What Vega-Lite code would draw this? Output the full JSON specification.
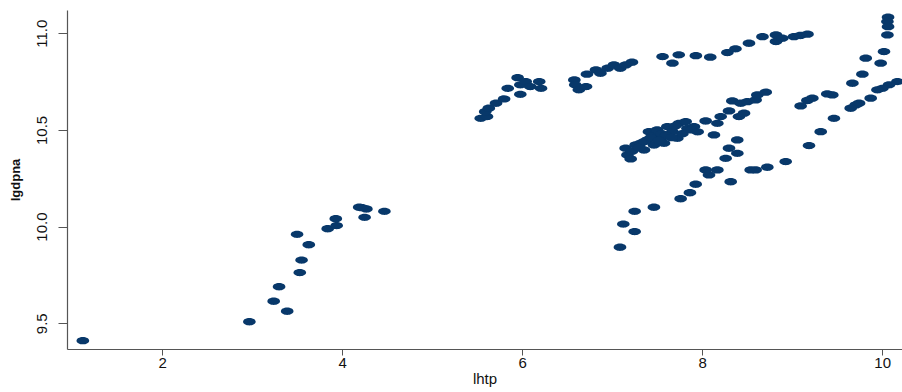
{
  "$schema": "https://vega.github.io/schema/vega-lite/v6.json",
  "width": 835,
  "height": 339,
  "autosize": {"type": "none"},
  "padding": {"left": 67, "top": 10, "right": 0, "bottom": 43},
  "background": "white",
  "config": {"view": {"stroke": null}},
  "data": {"values": [
    {"lhtp": 1.12, "lgdpna": 9.41}, {"lhtp": 2.97, "lgdpna": 9.508}, {"lhtp": 3.24, "lgdpna": 9.614}, {"lhtp": 3.39, "lgdpna": 9.562},
    {"lhtp": 3.30, "lgdpna": 9.689}, {"lhtp": 3.53, "lgdpna": 9.762}, {"lhtp": 3.55, "lgdpna": 9.827}, {"lhtp": 3.50, "lgdpna": 9.96},
    {"lhtp": 3.63, "lgdpna": 9.906}, {"lhtp": 3.84, "lgdpna": 9.989}, {"lhtp": 3.94, "lgdpna": 10.005}, {"lhtp": 3.93, "lgdpna": 10.041},
    {"lhtp": 4.19, "lgdpna": 10.1}, {"lhtp": 4.27, "lgdpna": 10.091}, {"lhtp": 4.25, "lgdpna": 10.048}, {"lhtp": 4.47, "lgdpna": 10.079},
    {"lhtp": 4.22, "lgdpna": 10.098},
    {"lhtp": 5.54, "lgdpna": 10.56}, {"lhtp": 5.61, "lgdpna": 10.569}, {"lhtp": 5.59, "lgdpna": 10.594}, {"lhtp": 5.63, "lgdpna": 10.612},
    {"lhtp": 5.71, "lgdpna": 10.638}, {"lhtp": 5.80, "lgdpna": 10.66}, {"lhtp": 5.95, "lgdpna": 10.77}, {"lhtp": 5.84, "lgdpna": 10.715},
    {"lhtp": 5.98, "lgdpna": 10.733}, {"lhtp": 5.98, "lgdpna": 10.684}, {"lhtp": 6.04, "lgdpna": 10.75}, {"lhtp": 6.09, "lgdpna": 10.724},
    {"lhtp": 6.19, "lgdpna": 10.75}, {"lhtp": 6.21, "lgdpna": 10.715}, {"lhtp": 6.58, "lgdpna": 10.758}, {"lhtp": 6.59, "lgdpna": 10.733},
    {"lhtp": 6.63, "lgdpna": 10.707}, {"lhtp": 6.71, "lgdpna": 10.724}, {"lhtp": 6.72, "lgdpna": 10.788}, {"lhtp": 6.82, "lgdpna": 10.81},
    {"lhtp": 6.87, "lgdpna": 10.793}, {"lhtp": 6.95, "lgdpna": 10.819}, {"lhtp": 7.02, "lgdpna": 10.836}, {"lhtp": 7.09, "lgdpna": 10.819},
    {"lhtp": 7.15, "lgdpna": 10.836}, {"lhtp": 7.22, "lgdpna": 10.85},
    {"lhtp": 7.56, "lgdpna": 10.879}, {"lhtp": 7.67, "lgdpna": 10.845}, {"lhtp": 7.74, "lgdpna": 10.888}, {"lhtp": 7.93, "lgdpna": 10.884},
    {"lhtp": 8.09, "lgdpna": 10.876}, {"lhtp": 8.28, "lgdpna": 10.9}, {"lhtp": 8.37, "lgdpna": 10.919}, {"lhtp": 8.52, "lgdpna": 10.948},
    {"lhtp": 8.67, "lgdpna": 10.982}, {"lhtp": 8.82, "lgdpna": 10.991}, {"lhtp": 8.82, "lgdpna": 10.957}, {"lhtp": 8.89, "lgdpna": 10.974},
    {"lhtp": 9.02, "lgdpna": 10.982}, {"lhtp": 9.09, "lgdpna": 10.988}, {"lhtp": 9.17, "lgdpna": 10.995},
    {"lhtp": 10.065, "lgdpna": 11.083}, {"lhtp": 10.058, "lgdpna": 11.06}, {"lhtp": 10.065, "lgdpna": 11.034}, {"lhtp": 10.058, "lgdpna": 10.991},
    {"lhtp": 10.02, "lgdpna": 10.905}, {"lhtp": 9.983, "lgdpna": 10.845}, {"lhtp": 9.817, "lgdpna": 10.871}, {"lhtp": 9.78, "lgdpna": 10.788},
    {"lhtp": 9.669, "lgdpna": 10.741},
    {"lhtp": 10.169, "lgdpna": 10.75}, {"lhtp": 10.076, "lgdpna": 10.733}, {"lhtp": 10.002, "lgdpna": 10.715}, {"lhtp": 9.947, "lgdpna": 10.707},
    {"lhtp": 9.872, "lgdpna": 10.664}, {"lhtp": 9.743, "lgdpna": 10.638}, {"lhtp": 9.706, "lgdpna": 10.629}, {"lhtp": 9.65, "lgdpna": 10.612},
    {"lhtp": 9.39, "lgdpna": 10.686}, {"lhtp": 9.446, "lgdpna": 10.681}, {"lhtp": 9.224, "lgdpna": 10.664}, {"lhtp": 9.169, "lgdpna": 10.652},
    {"lhtp": 9.094, "lgdpna": 10.624}, {"lhtp": 9.464, "lgdpna": 10.56}, {"lhtp": 9.317, "lgdpna": 10.491}, {"lhtp": 9.187, "lgdpna": 10.419},
    {"lhtp": 8.928, "lgdpna": 10.336}, {"lhtp": 8.724, "lgdpna": 10.307}, {"lhtp": 8.594, "lgdpna": 10.293}, {"lhtp": 8.539, "lgdpna": 10.293},
    {"lhtp": 8.317, "lgdpna": 10.232}, {"lhtp": 8.169, "lgdpna": 10.293}, {"lhtp": 8.076, "lgdpna": 10.267}, {"lhtp": 8.039, "lgdpna": 10.293},
    {"lhtp": 7.928, "lgdpna": 10.219}, {"lhtp": 7.864, "lgdpna": 10.175}, {"lhtp": 7.761, "lgdpna": 10.144}, {"lhtp": 7.464, "lgdpna": 10.1},
    {"lhtp": 7.25, "lgdpna": 10.079}, {"lhtp": 7.124, "lgdpna": 10.013}, {"lhtp": 7.25, "lgdpna": 9.974}, {"lhtp": 7.087, "lgdpna": 9.893},
    {"lhtp": 8.261, "lgdpna": 10.353}, {"lhtp": 8.391, "lgdpna": 10.379}, {"lhtp": 8.298, "lgdpna": 10.405}, {"lhtp": 8.39, "lgdpna": 10.448},
    {"lhtp": 8.131, "lgdpna": 10.474},
    {"lhtp": 7.15, "lgdpna": 10.405}, {"lhtp": 7.17, "lgdpna": 10.37}, {"lhtp": 7.206, "lgdpna": 10.35}, {"lhtp": 7.261, "lgdpna": 10.422},
    {"lhtp": 7.317, "lgdpna": 10.431}, {"lhtp": 7.354, "lgdpna": 10.396}, {"lhtp": 7.39, "lgdpna": 10.448}, {"lhtp": 7.409, "lgdpna": 10.491},
    {"lhtp": 7.465, "lgdpna": 10.474}, {"lhtp": 7.465, "lgdpna": 10.422}, {"lhtp": 7.5, "lgdpna": 10.5}, {"lhtp": 7.539, "lgdpna": 10.457},
    {"lhtp": 7.576, "lgdpna": 10.431}, {"lhtp": 7.613, "lgdpna": 10.517}, {"lhtp": 7.669, "lgdpna": 10.491}, {"lhtp": 7.724, "lgdpna": 10.457},
    {"lhtp": 7.743, "lgdpna": 10.534}, {"lhtp": 7.817, "lgdpna": 10.543}, {"lhtp": 7.836, "lgdpna": 10.508}, {"lhtp": 7.909, "lgdpna": 10.517},
    {"lhtp": 8.039, "lgdpna": 10.546}, {"lhtp": 8.169, "lgdpna": 10.534}, {"lhtp": 8.206, "lgdpna": 10.569}, {"lhtp": 8.298, "lgdpna": 10.598},
    {"lhtp": 8.335, "lgdpna": 10.65}, {"lhtp": 8.409, "lgdpna": 10.569}, {"lhtp": 8.465, "lgdpna": 10.586}, {"lhtp": 8.428, "lgdpna": 10.638},
    {"lhtp": 8.502, "lgdpna": 10.646}, {"lhtp": 8.594, "lgdpna": 10.655}, {"lhtp": 8.613, "lgdpna": 10.681}, {"lhtp": 8.706, "lgdpna": 10.695},
    {"lhtp": 7.22, "lgdpna": 10.39}, {"lhtp": 7.3, "lgdpna": 10.41}, {"lhtp": 7.36, "lgdpna": 10.44}, {"lhtp": 7.43, "lgdpna": 10.46},
    {"lhtp": 7.55, "lgdpna": 10.48}, {"lhtp": 7.6, "lgdpna": 10.47}, {"lhtp": 7.7, "lgdpna": 10.52}, {"lhtp": 7.78, "lgdpna": 10.48},
    {"lhtp": 7.88, "lgdpna": 10.5}, {"lhtp": 7.95, "lgdpna": 10.49}, {"lhtp": 7.66, "lgdpna": 10.46}, {"lhtp": 7.52, "lgdpna": 10.445}
  ]},
  "mark": {
    "type": "point",
    "filled": true,
    "opacity": 1,
    "color": "#08386a",
    "shape": "M-1,0A1,0.58,0,1,1,1,0A1,0.58,0,1,1,-1,0Z",
    "size": 160
  },
  "encoding": {
    "x": {
      "field": "lhtp", "type": "quantitative",
      "scale": {"domain": [0.944, 10.22], "nice": false, "zero": false},
      "axis": {
        "values": [2, 4, 6, 8, 10], "grid": false, "title": "lhtp",
        "domainColor": "#555555", "tickColor": "#555555", "tickSize": 6, "domainWidth": 1.2,
        "labelFont": "Liberation Sans", "labelFontSize": 15, "labelColor": "#111111", "labelPadding": 0,
        "titleFont": "Liberation Sans", "titleFontSize": 15, "titleFontWeight": "normal", "titleColor": "#111111", "titlePadding": 1
      }
    },
    "y": {
      "field": "lgdpna", "type": "quantitative",
      "scale": {"domain": [9.367, 11.12], "nice": false, "zero": false},
      "axis": {
        "values": [9.5, 10, 10.5, 11], "grid": false, "title": "lgdpna",
        "domainColor": "#555555", "tickColor": "#555555", "tickSize": 9, "domainWidth": 1.2,
        "labelAngle": -90, "labelAlign": "center", "labelBaseline": "bottom",
        "labelFont": "Liberation Sans", "labelFontSize": 15, "labelColor": "#111111", "labelPadding": 9,
        "titleFont": "Liberation Sans", "titleFontSize": 13, "titleFontWeight": "bold", "titleColor": "#111111", "titlePadding": 12
      }
    }
  }
}
